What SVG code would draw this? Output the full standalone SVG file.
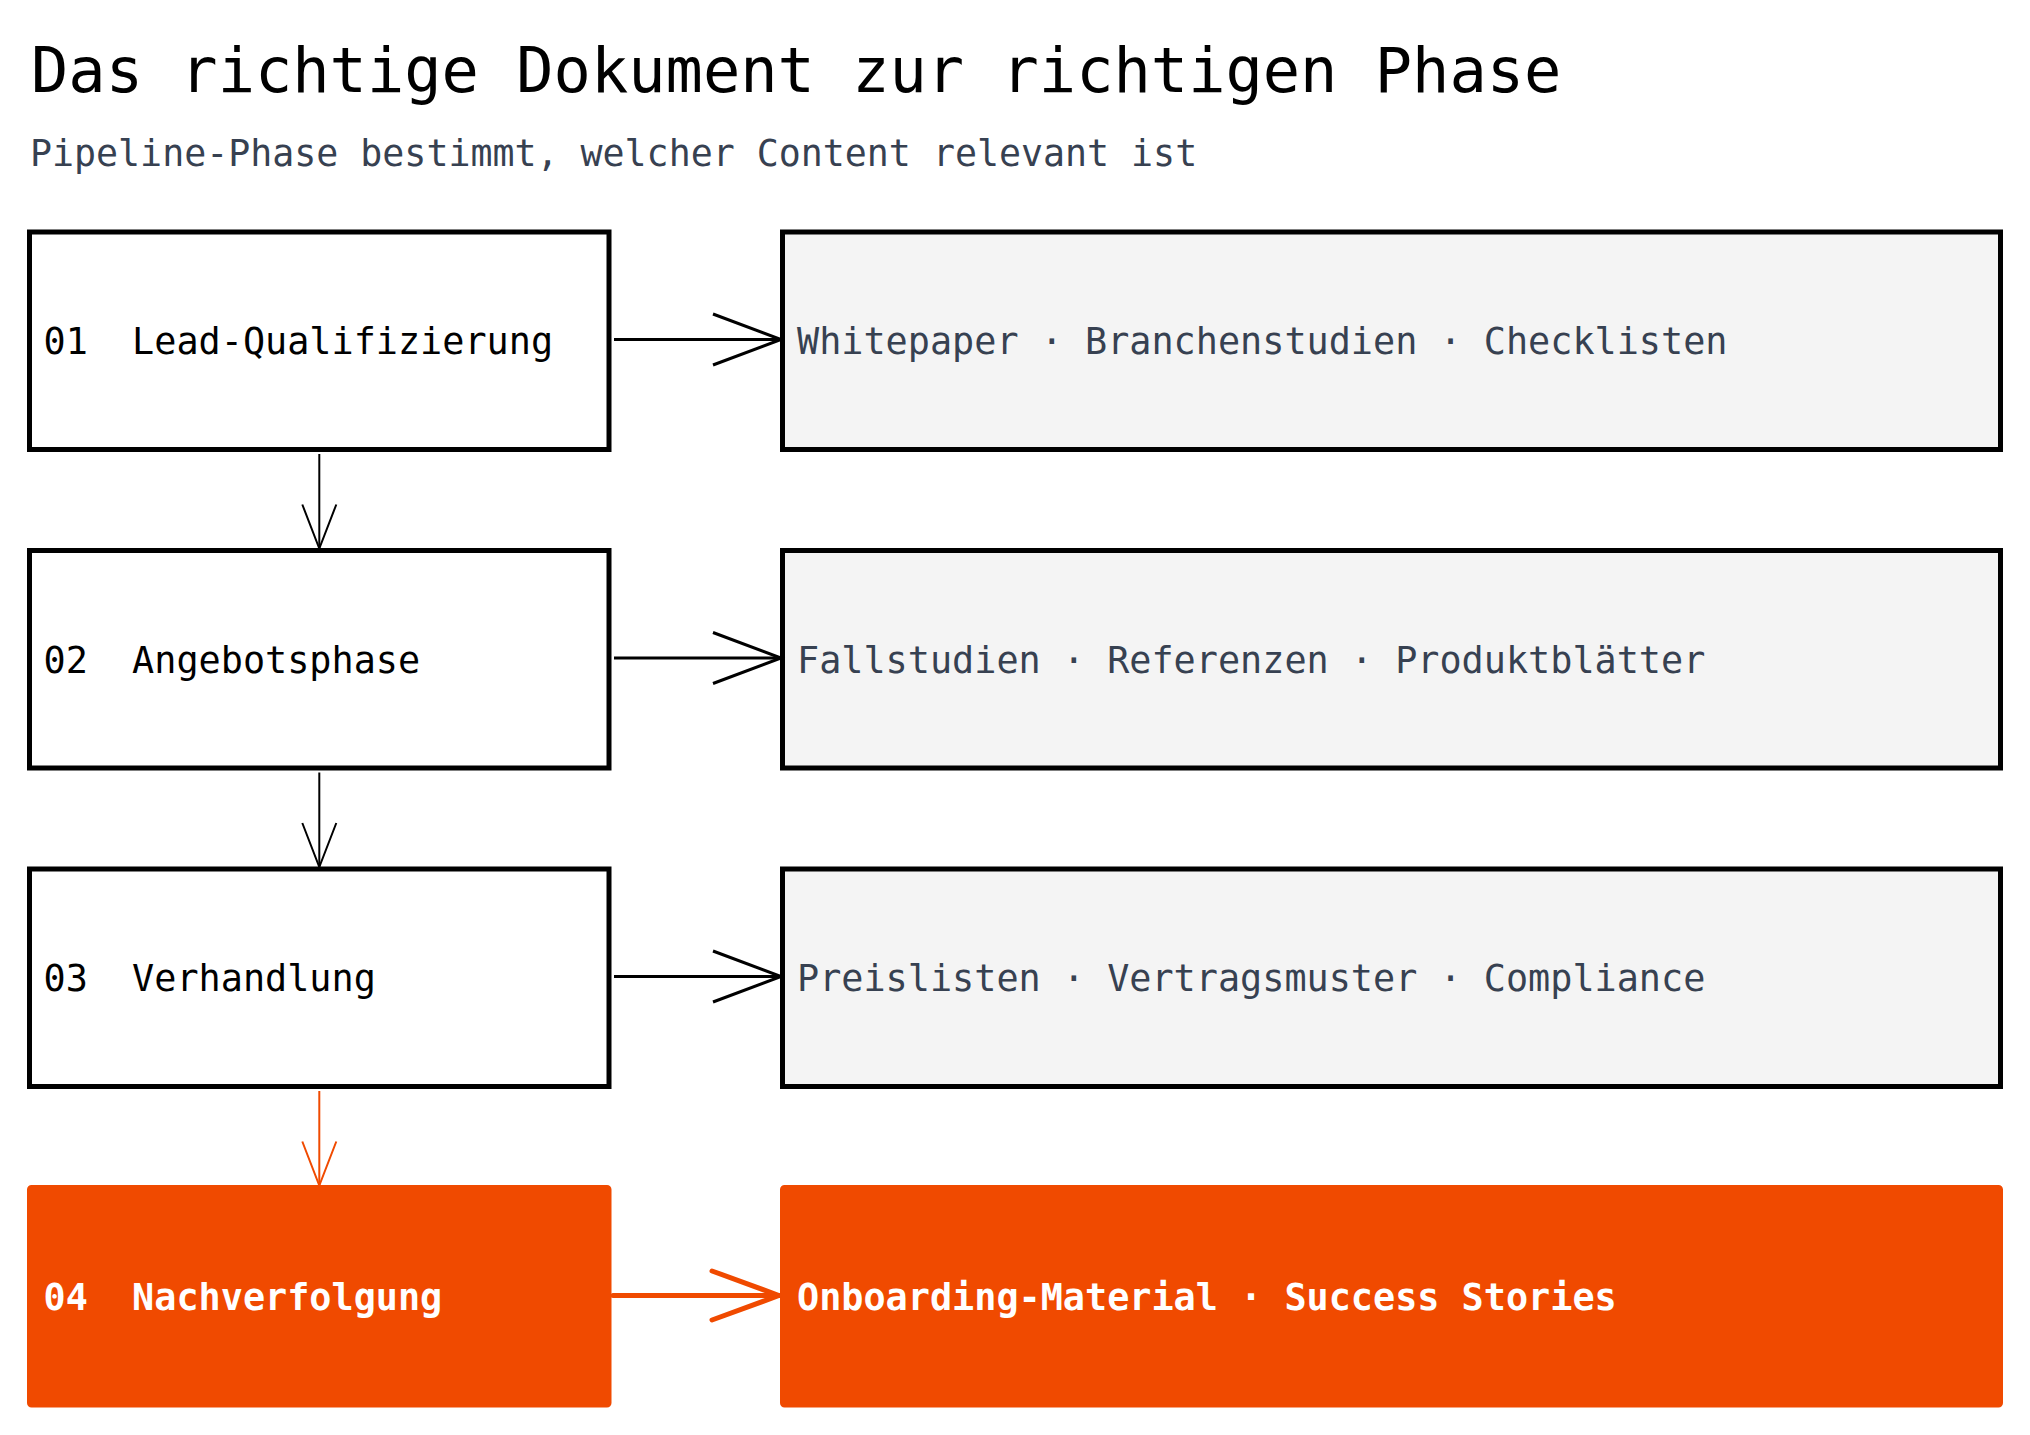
<svg xmlns="http://www.w3.org/2000/svg" width="2030" height="1435" viewBox="0 0 2030 1435">
  <style>
    .mono { font-family: "DejaVu Sans Mono", "Liberation Mono", monospace; }
    .title { font-size: 62px; fill: #000000; }
    .subtitle { font-size: 36.6px; fill: #374151; }
    .phase { fill: #ffffff; stroke: #000000; stroke-width: 5; }
    .content { fill: #f4f4f4; stroke: #000000; stroke-width: 5; }
    .hot { fill: #f04a00; stroke: #f04a00; stroke-width: 5; }
    .plabel { font-size: 36.8px; fill: #000000; }
    .clabel { font-size: 36.8px; fill: #374151; }
    .wlabel { font-size: 36.8px; fill: #ffffff; font-weight: bold; }
    .h { stroke: #000000; stroke-width: 3; fill: none; }
    .v { stroke: #000000; stroke-width: 2; fill: none; }
    .hh { stroke: #f04a00; stroke-width: 5; fill: none; stroke-linecap: round; }
    .vh { stroke: #f04a00; stroke-width: 2; fill: none; }
  </style>
  <defs>
    <marker id="ah" markerUnits="userSpaceOnUse" markerWidth="80" markerHeight="60" refX="70" refY="28" orient="auto" overflow="visible">
      <path d="M2,2.5 L70,28 L2,53.5" fill="none" stroke="#000000" stroke-width="3"/>
    </marker>
    <marker id="av" markerUnits="userSpaceOnUse" markerWidth="60" markerHeight="40" refX="46" refY="19" orient="auto" overflow="visible">
      <path d="M2,2 L46,19 L2,36" fill="none" stroke="#000000" stroke-width="2"/>
    </marker>
    <marker id="ahh" markerUnits="userSpaceOnUse" markerWidth="80" markerHeight="60" refX="70" refY="28" orient="auto" overflow="visible">
      <path d="M3,3.5 L70,28 L3,52.5" fill="none" stroke="#f04a00" stroke-width="5" stroke-linecap="round" stroke-linejoin="round"/>
    </marker>
    <marker id="avh" markerUnits="userSpaceOnUse" markerWidth="60" markerHeight="40" refX="46" refY="19" orient="auto" overflow="visible">
      <path d="M2,2 L46,19 L2,36" fill="none" stroke="#f04a00" stroke-width="2"/>
    </marker>
  </defs>

  <rect x="0" y="0" width="2030" height="1435" fill="#ffffff"/>

  <g id="header">
    <text class="mono title" x="31" y="92">Das richtige Dokument zur richtigen Phase</text>
    <text class="mono subtitle" x="30" y="166">Pipeline-Phase bestimmt, welcher Content relevant ist</text>
  </g>

  <g id="phase-01">
    <rect class="phase" x="29.5" y="232" width="579.5" height="217.5"/>
    <text class="mono plabel" x="43.5" y="354" xml:space="preserve">01  Lead-Qualifizierung</text>
  </g>
  <g id="content-01">
    <rect class="content" x="782.5" y="232" width="1218" height="217.5"/>
    <text class="mono clabel" x="797" y="354">Whitepaper · Branchenstudien · Checklisten</text>
  </g>

  <g id="phase-02">
    <rect class="phase" x="29.5" y="550.5" width="579.5" height="217.5"/>
    <text class="mono plabel" x="43.5" y="672.5" xml:space="preserve">02  Angebotsphase</text>
  </g>
  <g id="content-02">
    <rect class="content" x="782.5" y="550.5" width="1218" height="217.5"/>
    <text class="mono clabel" x="797" y="672.5">Fallstudien · Referenzen · Produktblätter</text>
  </g>

  <g id="phase-03">
    <rect class="phase" x="29.5" y="869" width="579.5" height="217.5"/>
    <text class="mono plabel" x="43.5" y="991" xml:space="preserve">03  Verhandlung</text>
  </g>
  <g id="content-03">
    <rect class="content" x="782.5" y="869" width="1218" height="217.5"/>
    <text class="mono clabel" x="797" y="991">Preislisten · Vertragsmuster · Compliance</text>
  </g>

  <g id="phase-04">
    <rect class="hot" x="29.5" y="1187.5" width="579.5" height="217.5" rx="2"/>
    <text class="mono wlabel" x="43.5" y="1309.5" xml:space="preserve">04  Nachverfolgung</text>
  </g>
  <g id="content-04">
    <rect class="hot" x="782.5" y="1187.5" width="1218" height="217.5" rx="2"/>
    <text class="mono wlabel" x="797" y="1309.5">Onboarding-Material · Success Stories</text>
  </g>

  <g id="connectors">
    <line class="h" x1="614" y1="339.5" x2="781" y2="339.5" marker-end="url(#ah)"/>
    <line class="h" x1="614" y1="658" x2="781" y2="658" marker-end="url(#ah)"/>
    <line class="h" x1="614" y1="976.5" x2="781" y2="976.5" marker-end="url(#ah)"/>
    <line class="hh" x1="613" y1="1295.5" x2="779" y2="1295.5" marker-end="url(#ahh)"/>
    <line class="v" x1="319.3" y1="454" x2="319.3" y2="548.5" marker-end="url(#av)"/>
    <line class="v" x1="319.3" y1="772.5" x2="319.3" y2="867" marker-end="url(#av)"/>
    <line class="vh" x1="319.3" y1="1091" x2="319.3" y2="1185.5" marker-end="url(#avh)"/>
  </g>
</svg>
